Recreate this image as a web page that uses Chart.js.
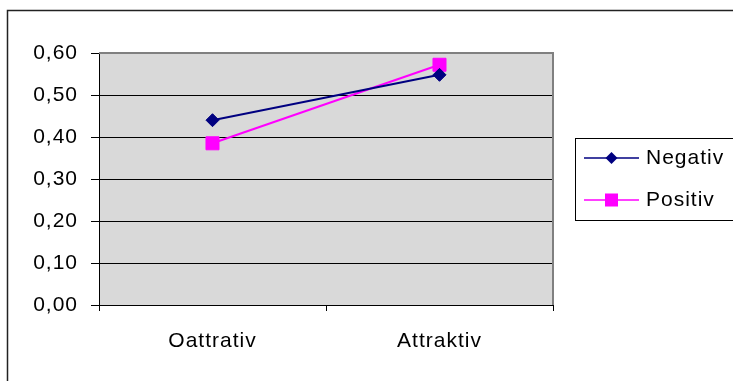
<!DOCTYPE html>
<html>
<head>
<meta charset="utf-8">
<script src="https://cdn.jsdelivr.net/npm/chart.js@4/dist/chart.umd.min.js"></script>
<style>
  html, body { margin: 0; padding: 0; background: #ffffff; }
  #wrap { width: 733px; height: 381px; }
</style>
</head>
<body>
<div id="wrap"><canvas id="c" width="733" height="381"></canvas></div>
<script>
// Categories and series values
const categories = ['Oattrativ', 'Attraktiv'];
const negativ = [0.44, 0.548];
const positiv = [0.385, 0.572];
const seriesNames = ['Negativ', 'Positiv'];
const yTicks = [0, 0.1, 0.2, 0.3, 0.4, 0.5, 0.6];

const FONT = '"Liberation Sans", Arial, sans-serif';
const FONT_SIZE = 21;
const SPACING = '1px';

// Gray plot background, plot border, outer frame and the legend box
const framePlugin = {
  id: 'frame',
  beforeDraw(chart) {
    const { ctx, chartArea: a } = chart;
    ctx.letterSpacing = SPACING;
    ctx.save();
    ctx.fillStyle = '#d9d9d9';
    ctx.fillRect(a.left, a.top, a.right - a.left, a.bottom - a.top);
    ctx.restore();
  },
  beforeDatasetsDraw(chart) {
    const { ctx, chartArea: a } = chart;
    ctx.save();
    ctx.strokeStyle = '#808080';
    ctx.lineWidth = 2;
    ctx.beginPath();
    ctx.moveTo(a.left, a.top);
    ctx.lineTo(a.right, a.top);
    ctx.lineTo(a.right, a.bottom);
    ctx.stroke();
    ctx.restore();
  },
  afterDraw(chart) {
    const { ctx } = chart;
    ctx.save();
    // outer frame
    ctx.strokeStyle = '#222';
    ctx.lineWidth = 1.5;
    ctx.strokeRect(7.5, 10.5, 740, 380);
    // legend
    ctx.strokeStyle = '#000';
    ctx.lineWidth = 1;
    ctx.strokeRect(575.5, 138.5, 170, 82);
    const rows = [158, 200];
    chart.data.datasets.forEach((ds, i) => {
      const y = rows[i];
      ctx.strokeStyle = ds.borderColor;
      ctx.lineWidth = 1.5;
      ctx.beginPath();
      ctx.moveTo(584, y);
      ctx.lineTo(639, y);
      ctx.stroke();
      ctx.fillStyle = ds.pointBackgroundColor;
      if (ds.pointStyle === 'rectRot') {
        ctx.beginPath();
        ctx.moveTo(611.5, y - 6);
        ctx.lineTo(617.5, y);
        ctx.lineTo(611.5, y + 6);
        ctx.lineTo(605.5, y);
        ctx.closePath();
        ctx.fill();
      } else {
        ctx.fillRect(605, y - 6.5, 13, 13);
      }
      ctx.fillStyle = '#000';
      ctx.font = FONT_SIZE + 'px ' + FONT;
      ctx.letterSpacing = SPACING;
      ctx.textBaseline = 'middle';
      ctx.textAlign = 'left';
      ctx.fillText(ds.label, 646, y);
    });
    ctx.restore();
  }
};

new Chart(document.getElementById('c'), {
  type: 'line',
  data: {
    labels: categories,
    datasets: [
      {
        label: seriesNames[0],
        data: negativ,
        borderColor: '#000080',
        backgroundColor: '#000080',
        pointBackgroundColor: '#000080',
        pointBorderColor: '#000080',
        borderWidth: 2,
        pointStyle: 'rectRot',
        pointRadius: 6.5,
        pointBorderWidth: 1
      },
      {
        label: seriesNames[1],
        data: positiv,
        borderColor: '#ff00ff',
        backgroundColor: '#ff00ff',
        pointBackgroundColor: '#ff00ff',
        pointBorderColor: '#ff00ff',
        borderWidth: 2,
        pointStyle: 'rect',
        pointRadius: 9.2,
        pointBorderWidth: 1
      }
    ]
  },
  options: {
    responsive: false,
    animation: false,
    devicePixelRatio: 1,
    layout: { padding: { left: 7, right: 180, top: 53, bottom: 0 } },
    plugins: { legend: { display: false }, tooltip: { enabled: false } },
    scales: {
      x: {
        offset: true,
        grid: { offset: true, drawOnChartArea: false, drawTicks: true, tickLength: 6, color: '#000' },
        border: { color: '#000', width: 1 },
        ticks: { color: '#000', font: { family: FONT, size: FONT_SIZE }, padding: 18, maxRotation: 0 },
        afterFit(s) { s.height = 76; }
      },
      y: {
        min: 0,
        max: 0.6,
        afterBuildTicks(s) { s.ticks = yTicks.map(v => ({ value: v })); },
        grid: { color: '#000', lineWidth: 1, tickLength: 8 },
        border: { color: '#000', width: 1 },
        ticks: {
          color: '#000',
          font: { family: FONT, size: FONT_SIZE },
          padding: 13,
          callback: v => v.toFixed(2).replace('.', ',')
        },
        afterFit(s) { s.width = 92; }
      }
    }
  },
  plugins: [framePlugin]
});
</script>
</body>
</html>
